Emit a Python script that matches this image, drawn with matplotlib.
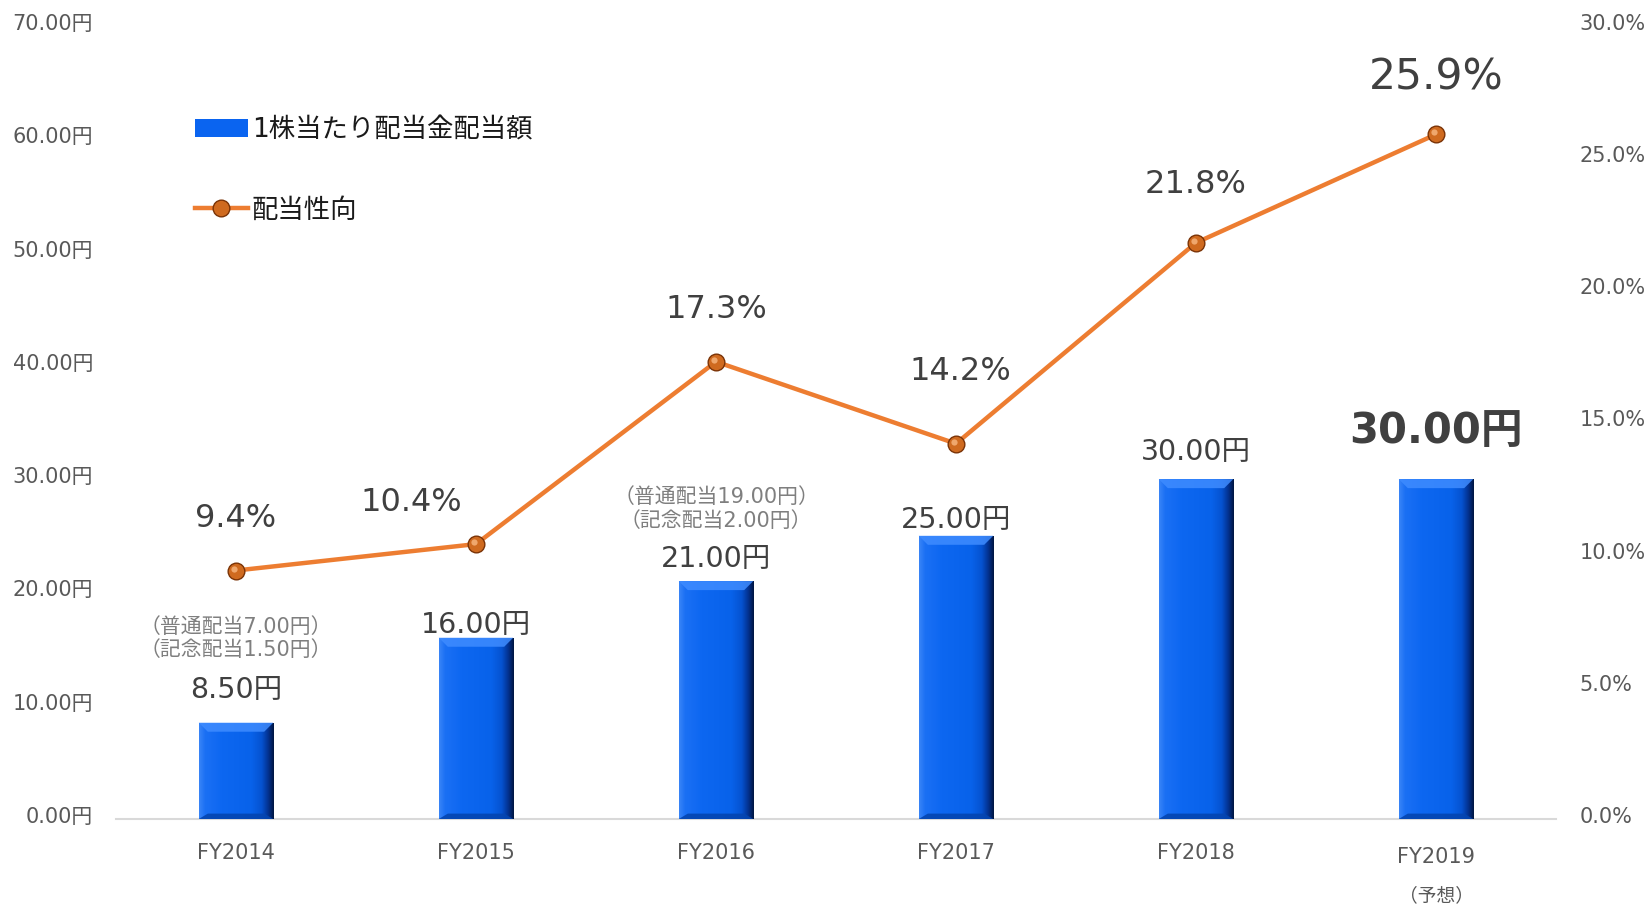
import numpy as np
import matplotlib
matplotlib.use("Agg")
import matplotlib.pyplot as plt
from matplotlib.colors import LinearSegmentedColormap
from matplotlib.patches import Polygon
from matplotlib.transforms import ScaledTranslation

plt.rcParams['font.family'] = ['DejaVu Sans', 'Noto Sans CJK JP']

# ---------------- data ----------------
categories = ["FY2014", "FY2015", "FY2016", "FY2017", "FY2018", "FY2019"]
dividend = [8.50, 16.00, 21.00, 25.00, 30.00, 30.00]          # 円
payout_ratio = [9.4, 10.4, 17.3, 14.2, 21.8, 25.9]            # %
dividend_labels = ["8.50円", "16.00円", "21.00円", "25.00円", "30.00円", "30.00円"]
payout_labels = ["9.4%", "10.4%", "17.3%", "14.2%", "21.8%", "25.9%"]
notes = {0: "（普通配当7.00円）\n（記念配当1.50円）",
         2: "（普通配当19.00円）\n（記念配当2.00円）"}
left_ticks = [0, 10, 20, 30, 40, 50, 60, 70]
right_ticks = [0, 5, 10, 15, 20, 25, 30]
legend_bar = "1株当たり配当金配当額"
legend_line = "配当性向"
forecast_note = "（予想）"

# ---------------- layout / style ----------------
bar_label_off = [33, 13, 22, 16, 27, 48]     # px above bar top
pct_label_off = [(0, 52), (-65, 42), (0, 52), (4, 72), (0, 58), (0, 57)]
note_off = {0: 84, 2: 72}

W, H = 1652, 906
fig = plt.figure(figsize=(W / 100, H / 100), dpi=100)
ax = fig.add_axes([116 / W, 1 - 819 / H, 1440 / W, (819 - 26) / H])
ax2 = ax.twinx()

x = np.arange(len(categories))
bars = ax.bar(x, dividend, width=0.31, color="#0a64f0", zorder=2, label=legend_bar)

ax.set_xlim(-0.5, len(categories) - 0.5)
ax.set_ylim(0, 70)
ax2.set_ylim(0, 30)

# bevel / gradient effect for each bar
cmap = LinearSegmentedColormap.from_list("bevel", [
    (0.0, "#3a85f7"), (0.08, "#1b70f4"), (0.3, "#0d67f1"), (0.7, "#0862ea"),
    (0.84, "#0552d0"), (0.93, "#03308c"), (1.0, "#001540")])
grad = cmap(np.linspace(0, 1, 256))[None, :, :3]
fig.canvas.draw()
inv = ax.transData.inverted()
for rect in bars:
    x0, y0, w, h = rect.get_x(), rect.get_y(), rect.get_width(), rect.get_height()
    im = ax.imshow(grad, extent=[x0, x0 + w, y0, y0 + h], aspect="auto",
                   zorder=2.1, interpolation="bilinear")
    im.set_clip_path(rect)
    p0 = ax.transData.transform((x0, y0 + h))
    dx = inv.transform((p0[0] + 9, p0[1]))[0] - x0
    dy = (y0 + h) - inv.transform((p0[0], p0[1] - 9))[1]
    top = Polygon([(x0, y0 + h), (x0 + w, y0 + h), (x0 + w - dx, y0 + h - dy),
                   (x0 + dx, y0 + h - dy)], closed=True, facecolor="#3f8cff",
                  edgecolor="none", zorder=2.2, alpha=0.85)
    ax.add_patch(top)
    bot = Polygon([(x0, y0), (x0 + w, y0), (x0 + w - dx, y0 + dy * 0.6),
                   (x0 + dx, y0 + dy * 0.6)], closed=True, facecolor="#0445b0",
                  edgecolor="none", zorder=2.2, alpha=0.9)
    ax.add_patch(bot)

# bar value labels
for i, (v, lab) in enumerate(zip(dividend, dividend_labels)):
    last = i == len(dividend) - 1
    ax.annotate(lab, xy=(x[i], v), xytext=(0, bar_label_off[i]),
                textcoords="offset pixels", ha="center", va="center",
                fontsize=30 if last else 20.5,
                fontweight="bold" if last else "normal", color="#404040", zorder=5)
for i, t in notes.items():
    ax.annotate(t, xy=(x[i], dividend[i]), xytext=(0, note_off[i]),
                textcoords="offset pixels", ha="center", va="center",
                fontsize=15, color="#7f7f7f", linespacing=1.2, zorder=5)

# payout ratio line
line, = ax2.plot(x, payout_ratio, color="#ed7d31", lw=3.2, marker="o",
                 markersize=12, markerfacecolor="#cf6a1f", markeredgecolor="#7a3306",
                 markeredgewidth=1.0, zorder=4, label=legend_line)
hl = ax2.plot(x, payout_ratio, ls="none", marker="o", markersize=4.5,
              markerfacecolor="#f5b27a", markeredgecolor="none", zorder=4.5, alpha=0.85)[0]
hl.set_transform(ax2.transData + ScaledTranslation(-2 / 100, 2 / 100, fig.dpi_scale_trans))
for i, (v, lab) in enumerate(zip(payout_ratio, payout_labels)):
    last = i == len(payout_ratio) - 1
    ax2.annotate(lab, xy=(x[i], v), xytext=pct_label_off[i],
                 textcoords="offset pixels", ha="center", va="center",
                 fontsize=30.5 if last else 23, color="#404040", zorder=5)

# axes styling
ax.set_xticks(x)
ax.set_xticklabels(categories)
ax.set_yticks(left_ticks)
ax.set_yticklabels([f"{v:.2f}円" for v in left_ticks])
ax2.set_yticks(right_ticks)
ax2.set_yticklabels([f"{v:.1f}%" for v in right_ticks])
ax.tick_params(axis="both", length=0, labelsize=15, labelcolor="#595959")
ax.tick_params(axis="y", pad=16.5)
ax.tick_params(axis="x", pad=17)
ax2.tick_params(axis="y", length=0, labelsize=15, labelcolor="#595959", pad=17)
for s in ["top", "left", "right"]:
    ax.spines[s].set_visible(False)
for s in ax2.spines.values():
    s.set_visible(False)
ax.spines["bottom"].set_color("#d9d9d9")
ax.spines["bottom"].set_linewidth(1.5)
ax.spines["bottom"].set_zorder(1)

up = ScaledTranslation(0, 4 / 100, fig.dpi_scale_trans)
for t in ax.get_yticklabels() + ax2.get_yticklabels():
    t.set_transform(t.get_transform() + up)

lbl = ax.get_xticklabels()[-1]
lbl.set_transform(lbl.get_transform() + ScaledTranslation(0, -4 / 100, fig.dpi_scale_trans))
ax.annotate(forecast_note, xy=(x[-1], 0), xycoords=("data", "axes fraction"),
            xytext=(0, -77), textcoords="offset pixels", ha="center", va="center",
            fontsize=13.5, color="#595959")

# legend
leg = fig.legend(handles=[bars, line], labels=[legend_bar, legend_line],
                 loc="upper left", bbox_to_anchor=(195 / W, 1 - 117 / H),
                 frameon=False, fontsize=19, handlelength=2.0, handletextpad=0.15,
                 labelspacing=2.07, borderpad=0, borderaxespad=0)
for t in leg.get_texts():
    t.set_color("#1a1a1a")

fig.savefig("out.png", dpi=100)
